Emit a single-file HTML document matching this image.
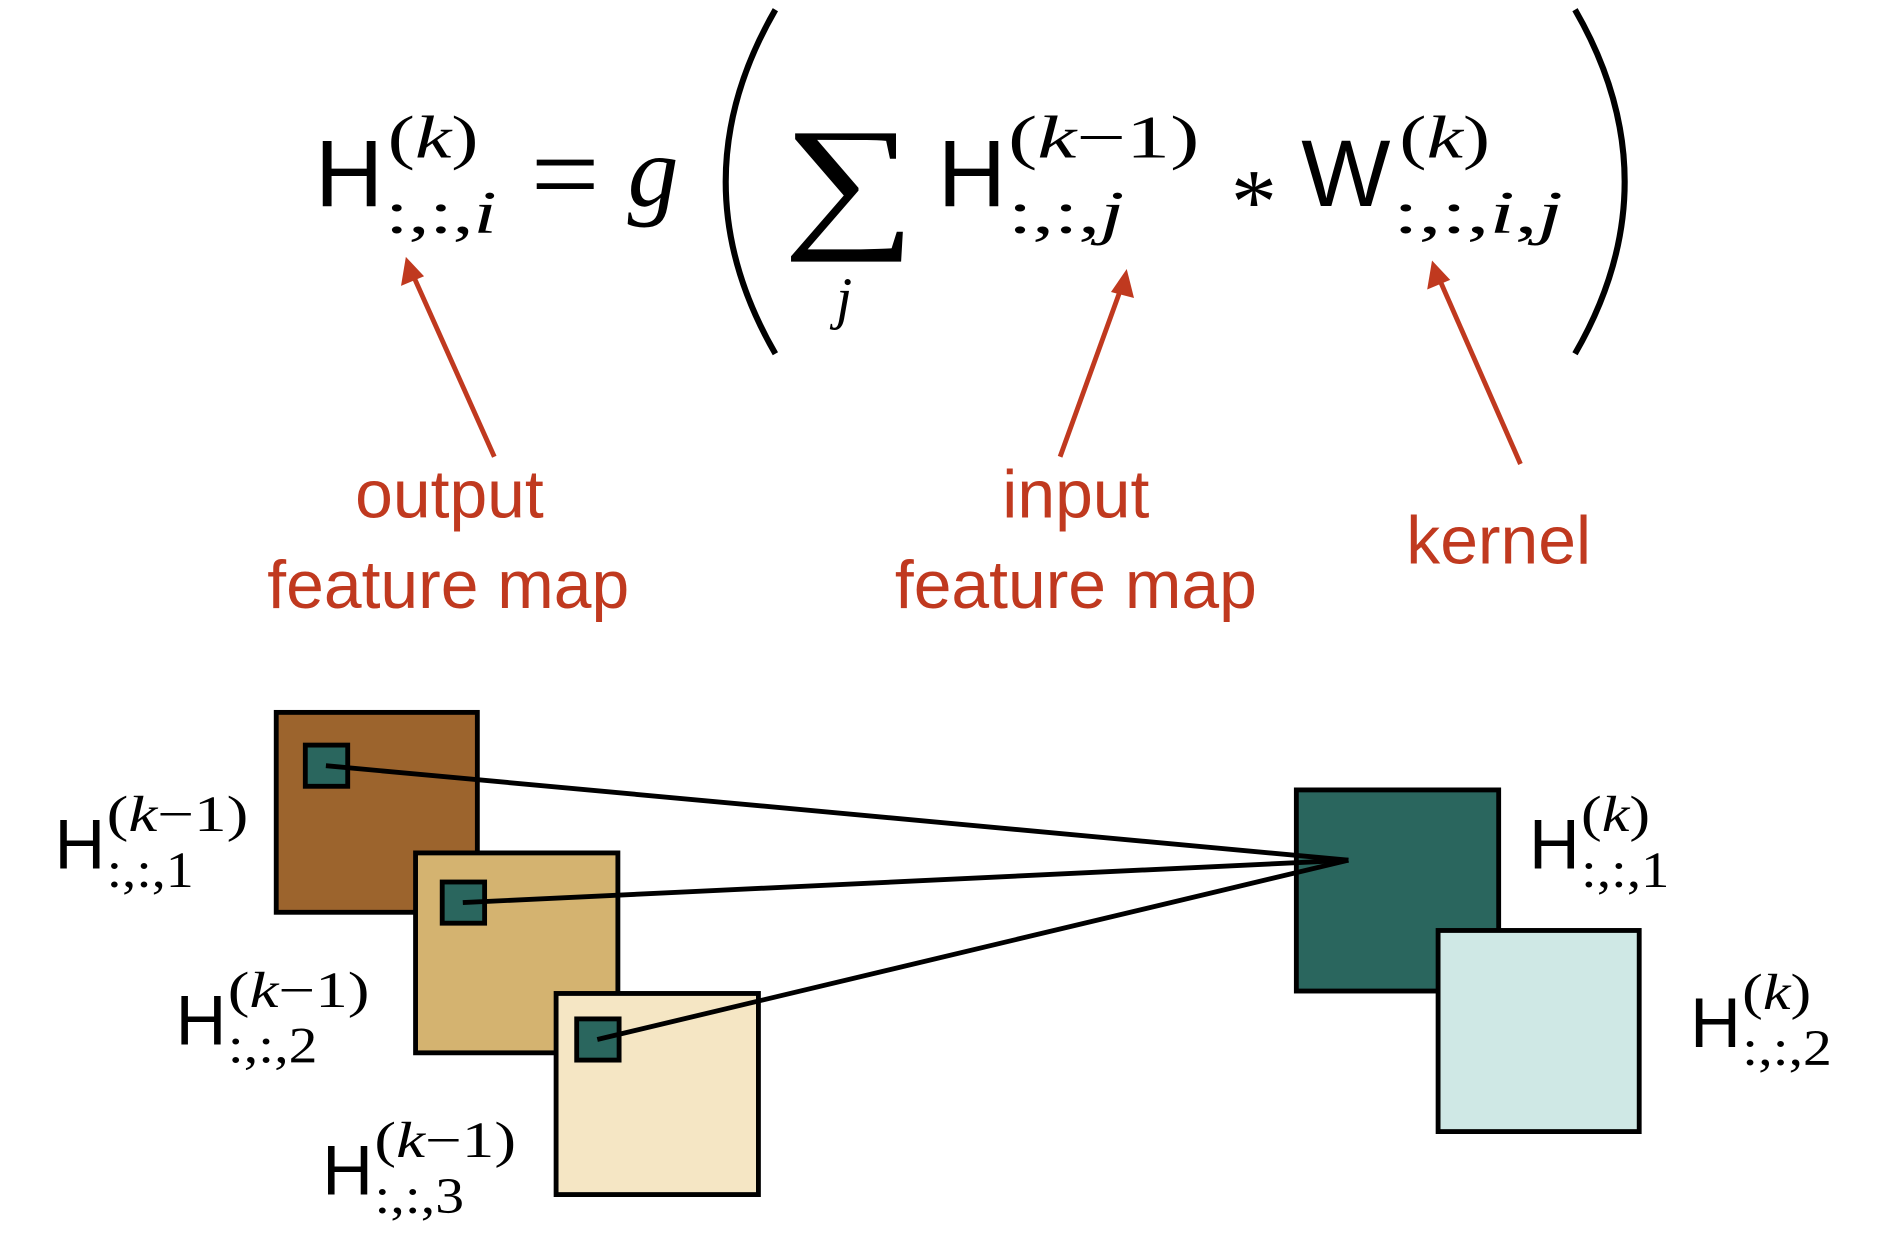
<!DOCTYPE html>
<html><head><meta charset="utf-8"><style>
html,body{margin:0;padding:0;background:#fff;}
svg{display:block;}
.sans{font-family:"Liberation Sans","DejaVu Sans",sans-serif;}
.ser{font-family:"Liberation Serif","DejaVu Serif",serif;}
.it{font-style:italic;}
.lab{font-family:"Liberation Sans","DejaVu Sans",sans-serif;fill:#c0391f;font-size:56px;text-anchor:middle;}
</style></head><body>
<svg width="1890" height="1260" viewBox="0 0 1560 1040" xmlns="http://www.w3.org/2000/svg">
<rect width="1560" height="1040" fill="#fff"/>
<!-- equation -->
<text x="260" y="170" class="sans" font-size="78">H</text>
<text x="320" y="130" class="ser" font-size="50" textLength="75" lengthAdjust="spacingAndGlyphs">(<tspan class="it">k</tspan>)</text>
<text x="318" y="192" class="ser" font-size="50" textLength="92" lengthAdjust="spacingAndGlyphs">:,:,<tspan class="it">i</tspan></text>
<text x="438" y="176" class="ser" font-size="96" textLength="57" lengthAdjust="spacingAndGlyphs">=</text>
<text x="518" y="170" class="ser it" font-size="84">g</text>
<path d="M640,8 Q558,150 640,292" fill="none" stroke="#000" stroke-width="5"/>
<path d="M1300,8 Q1382,150 1300,292" fill="none" stroke="#000" stroke-width="5"/>
<text x="646" y="190" class="ser" font-size="122" textLength="110" lengthAdjust="spacingAndGlyphs">∑</text>
<text x="690" y="262" class="ser it" font-size="48">j</text>
<text x="774" y="170" class="sans" font-size="78">H</text>
<text x="832" y="130" class="ser" font-size="50" textLength="158" lengthAdjust="spacingAndGlyphs">(<tspan class="it">k</tspan>−1)</text>
<text x="832" y="192" class="ser" font-size="50" textLength="96" lengthAdjust="spacingAndGlyphs">:,:,<tspan class="it">j</tspan></text>
<text x="1016" y="192" class="ser" font-size="76">*</text>
<text x="1074" y="170" class="sans" font-size="78">W</text>
<text x="1155" y="130" class="ser" font-size="50" textLength="75" lengthAdjust="spacingAndGlyphs">(<tspan class="it">k</tspan>)</text>
<text x="1150" y="192" class="ser" font-size="50" textLength="140" lengthAdjust="spacingAndGlyphs">:,:,<tspan class="it">i</tspan>,<tspan class="it">j</tspan></text>
<!-- arrows -->
<g stroke="#c0391f" stroke-width="4" fill="#c0391f">
<line x1="408" y1="377" x2="340" y2="225"/>
<line x1="875" y1="377" x2="926" y2="236"/>
<line x1="1255" y1="383" x2="1187" y2="228"/>
</g>
<g fill="#c0391f">
<polygon points="335,212 331,236 350,228"/>
<polygon points="930,222 917,241 936,246"/>
<polygon points="1182,215 1178,239 1197,231"/>
</g>
<text x="371" y="427" class="lab">output</text>
<text x="370" y="502" class="lab">feature map</text>
<text x="888" y="427" class="lab">input</text>
<text x="888" y="502" class="lab">feature map</text>
<text x="1237" y="465" class="lab">kernel</text>
<!-- boxes -->
<g stroke="#000" stroke-width="4">
<rect x="228" y="588" width="166" height="165" fill="#9c642d"/>
<rect x="343" y="704" width="167" height="165" fill="#d4b370"/>
<rect x="459" y="820" width="167" height="166" fill="#f5e6c4"/>
<rect x="252" y="615" width="35" height="34" fill="#2a665e"/>
<rect x="365" y="728" width="35" height="34" fill="#2a665e"/>
<rect x="476" y="841" width="35" height="34" fill="#2a665e"/>
<rect x="1070" y="652" width="167" height="166" fill="#2a665e"/>
<rect x="1187" y="768" width="166" height="166" fill="#cfe8e5"/>
<line x1="269" y1="632" x2="1113" y2="710"/>
<line x1="382" y1="745" x2="1113" y2="710"/>
<line x1="493" y1="858" x2="1113" y2="710"/>
</g>
<!-- lower labels -->
<g class="ser" font-size="42">
<text x="45" y="717" class="sans" font-size="58">H</text>
<text x="88" y="686" textLength="117" lengthAdjust="spacingAndGlyphs">(<tspan class="it">k</tspan>−1)</text>
<text x="88" y="732" textLength="72" lengthAdjust="spacingAndGlyphs">:,:,1</text>
<text x="145" y="862" class="sans" font-size="58">H</text>
<text x="188" y="831" textLength="117" lengthAdjust="spacingAndGlyphs">(<tspan class="it">k</tspan>−1)</text>
<text x="188" y="877" textLength="74" lengthAdjust="spacingAndGlyphs">:,:,2</text>
<text x="266" y="986" class="sans" font-size="58">H</text>
<text x="309" y="955" textLength="117" lengthAdjust="spacingAndGlyphs">(<tspan class="it">k</tspan>−1)</text>
<text x="309" y="1001" textLength="74" lengthAdjust="spacingAndGlyphs">:,:,3</text>
<text x="1262" y="717" class="sans" font-size="58">H</text>
<text x="1305" y="686" textLength="57" lengthAdjust="spacingAndGlyphs">(<tspan class="it">k</tspan>)</text>
<text x="1305" y="732" textLength="73" lengthAdjust="spacingAndGlyphs">:,:,1</text>
<text x="1395" y="864" class="sans" font-size="58">H</text>
<text x="1438" y="833" textLength="57" lengthAdjust="spacingAndGlyphs">(<tspan class="it">k</tspan>)</text>
<text x="1438" y="879" textLength="74" lengthAdjust="spacingAndGlyphs">:,:,2</text>
</g>
</svg>
</body></html>
